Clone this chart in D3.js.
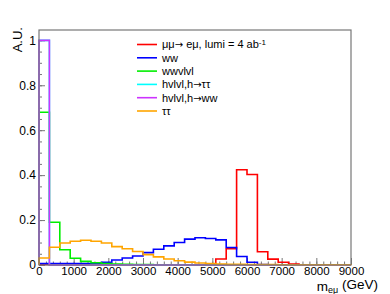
<!DOCTYPE html>
<html lang="en">
<head>
    <meta charset="UTF-8">
    <title>m_emu distribution</title>
    <script src="https://d3js.org/d3.v7.min.js"></script>
    <style>
        body { margin: 0; background: #fff; }
        svg { display: block; font-family: "Liberation Sans", Arial, sans-serif; }
        .axis path, .axis line { stroke: #777; }
        .axis text { fill: #000; }
    </style>
</head>
<body>
    <svg id="chart" width="390" height="294"></svg>
    <script>
        // bin edges: 30 bins of 300 GeV from 0 to 9000
        const binWidth = 300;
        const nBins = 30;

        // normalised contents
        const sigEmu   = [0.003,0,0,0,0,0,0,0,0,0,0,0,0,0,0,0,0,0.027,0.072,0.424,0.403,0.059,0.026,0.012,0.004,0,0,0,0,0];
        const bkgWW    = [0.006,0.006,0.006,0.006,0.006,0.006,0.012,0.022,0.031,0.040,0.055,0.070,0.085,0.100,0.115,0.121,0.118,0.112,0.078,0.038,0.012,0.002,0,0,0,0,0,0,0,0];
        const bkgWWvv  = [0.68,0.19,0.068,0.03,0.016,0.01,0.006,0.004,0.003,0.002,0.002,0.001,0.001,0.001,0,0,0,0,0,0,0,0,0,0,0,0,0,0,0,0];
        const bkgHtata = [1.0,0,0,0,0,0,0,0,0,0,0,0,0,0,0,0,0,0,0,0,0,0,0,0,0,0,0,0,0,0];
        const bkgHww   = [1.0,0,0,0,0,0,0,0,0,0,0,0,0,0,0,0,0,0,0,0,0,0,0,0,0,0,0,0,0,0];
        const bkgTata  = [0.031,0.079,0.098,0.106,0.110,0.106,0.098,0.082,0.072,0.060,0.046,0.036,0.027,0.019,0.013,0.009,0.006,0.004,0.003,0.003,0.002,0.002,0.002,0.001,0.001,0.001,0.001,0.001,0.001,0.001];

        const legendLabels = ["μμ→ eμ, lumi = 4 ab", "ww", "wwvlvl", "hvlvl,h→ττ", "hvlvl,h→ww", "ττ"];
        const xTicks = [0,1000,2000,3000,4000,5000,6000,7000,8000,9000];
        const yTicks = [0,0.2,0.4,0.6,0.8,1];

        const series = [
            { label: legendLabels[0], values: sigEmu,   color: "#ff0000" },
            { label: legendLabels[1], values: bkgWW,    color: "#0000ff" },
            { label: legendLabels[2], values: bkgWWvv,  color: "#00ee00" },
            { label: legendLabels[3], values: bkgHtata, color: "#00ffff" },
            { label: legendLabels[4], values: bkgHww,   color: "#cc33ff" },
            { label: legendLabels[5], values: bkgTata,  color: "#ffa500" }
        ];

        const svg = d3.select("#chart");
        const plotL = 39, plotR = 351, plotT = 30, plotB = 265;

        const x = d3.scaleLinear().domain([0, 9000]).range([plotL, plotR]);
        const y = d3.scaleLinear().domain([0, 1.046]).range([plotB, plotT]);

        // minor ticks
        svg.append("g").attr("class", "axis").attr("transform", `translate(0,${plotB})`)
            .call(d3.axisBottom(x).tickValues(d3.range(0, 9001, 200)).tickSize(-3.5).tickFormat(""))
            .call(g => g.select(".domain").remove());
        svg.append("g").attr("class", "axis").attr("transform", `translate(${plotL},0)`)
            .call(d3.axisLeft(y).tickValues(d3.range(0, 1.046, 0.05)).tickSize(-3).tickFormat(""))
            .call(g => g.select(".domain").remove());

        // major ticks + labels
        svg.append("g").attr("class", "axis").attr("transform", `translate(0,${plotB})`)
            .call(d3.axisBottom(x).tickValues(xTicks).tickSize(-7).tickPadding(2).tickFormat(d3.format("d")))
            .call(g => g.select(".domain").remove())
            .call(g => g.selectAll("text").attr("font-size", 11.5).attr("font-family", "Liberation Sans, Arial"));
        svg.append("g").attr("class", "axis").attr("transform", `translate(${plotL},0)`)
            .call(d3.axisLeft(y).tickValues(yTicks).tickSize(-6).tickPadding(3).tickFormat(d => String(+d.toFixed(1))))
            .call(g => g.select(".domain").remove())
            .call(g => g.selectAll("text").attr("font-size", 12).attr("font-family", "Liberation Sans, Arial"));

        // histograms drawn as step outlines
        const line = d3.line().x(d => x(d[0])).y(d => y(d[1]));
        series.forEach(s => {
            const pts = [[0, 0]];
            s.values.forEach((v, i) => {
                pts.push([i * binWidth, v]);
                pts.push([(i + 1) * binWidth, v]);
            });
            pts.push([nBins * binWidth, 0]);
            svg.append("path").datum(pts)
                .attr("fill", "none")
                .attr("stroke", s.color)
                .attr("stroke-width", 1.6)
                .attr("d", line);
        });

        // frame
        svg.append("rect")
            .attr("x", plotL).attr("y", plotT)
            .attr("width", plotR - plotL).attr("height", plotB - plotT)
            .attr("fill", "none").attr("stroke", "#777").attr("stroke-width", 1.2);

        // legend (arrows in DejaVu, Liberation's arrow glyph is tiny)
        const legend = svg.append("g");
        series.forEach((s, i) => {
            const ly = 44.5 + i * 13.3;
            legend.append("line")
                .attr("x1", 137).attr("x2", 157).attr("y1", ly).attr("y2", ly)
                .attr("stroke", s.color).attr("stroke-width", 1.6);
            const t = legend.append("text")
                .attr("x", 162).attr("y", ly).attr("dy", "0.35em")
                .attr("font-size", 11);
            s.label.split(/(→)/).forEach(part => {
                if (!part) return;
                const sp = t.append("tspan").text(part);
                if (part === "→") sp.attr("font-family", "DejaVu Sans").attr("font-size", 10);
            });
            if (i === 0) {
                t.append("tspan").attr("dy", "-0.4em").attr("font-size", 8).text("-1");
            }
        });

        // axis titles
        svg.append("text")
            .attr("transform", "translate(22,27) rotate(-90)")
            .attr("text-anchor", "end")
            .attr("font-size", 13).text("A.U.");

        const xt = svg.append("text")
            .attr("x", 378).attr("y", 290.5)
            .attr("text-anchor", "end")
            .attr("font-size", 13.5);
        xt.append("tspan").text("m");
        xt.append("tspan").attr("dy", "0.25em").attr("font-size", 9).text("eμ");
        xt.append("tspan").attr("dy", "-0.25em").text(" (GeV)");
    </script>
</body>
</html>
